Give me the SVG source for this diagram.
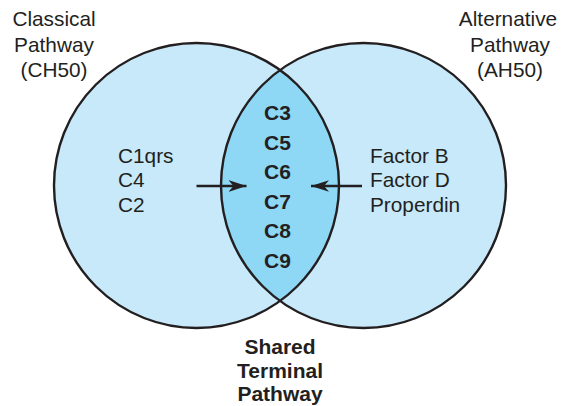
<svg xmlns="http://www.w3.org/2000/svg" width="569" height="406" viewBox="0 0 569 406">
<style>
  .t { font-family: "Liberation Sans", Arial, sans-serif; font-size: 20.8px; fill: #231f20; }
  .b { font-weight: bold; font-size: 21px; }
  .m { text-anchor: middle; }
  .ring { fill: none; stroke: #231f20; stroke-width: 2.4; }
  .conn { stroke: #231f20; stroke-width: 2.4; fill: none; }
</style>
<defs>
  <marker id="ah" markerWidth="20" markerHeight="14" viewBox="0 0 20 14" refX="18" refY="7" markerUnits="userSpaceOnUse" orient="auto">
    <path d="M0,1.2 L18,7 L0,12.8 L5,7 Z" fill="#231f20"/>
  </marker>
  <clipPath id="clipL"><circle cx="196.5" cy="185.5" r="142.5"/></clipPath>
</defs>
<rect width="569" height="406" fill="#ffffff"/>
<g id="classical">
  <circle cx="196.5" cy="185.5" r="142.5" fill="#c7e9f9"/>
</g>
<g id="alternative">
  <circle cx="363.5" cy="185.5" r="142.5" fill="#c7e9f9"/>
</g>
<g id="shared">
  <circle cx="363.5" cy="185.5" r="142.5" fill="#8ed8f5" clip-path="url(#clipL)"/>
</g>
<g id="outlines">
  <circle class="ring" cx="196.5" cy="185.5" r="142.5"/>
  <circle class="ring" cx="363.5" cy="185.5" r="142.5"/>
</g>
<g id="classical-label">
  <text class="t m" x="54" y="26">Classical</text>
  <text class="t m" x="54" y="52">Pathway</text>
  <text class="t m" x="54" y="77">(CH50)</text>
</g>
<g id="alternative-label">
  <text class="t m" x="508" y="26">Alternative</text>
  <text class="t m" x="510" y="52">Pathway</text>
  <text class="t m" x="510" y="77">(AH50)</text>
</g>
<g id="classical-items">
  <text class="t" x="118" y="162.5">C1qrs</text>
  <text class="t" x="118" y="187.2">C4</text>
  <text class="t" x="118" y="211.8">C2</text>
</g>
<g id="alternative-items">
  <text class="t" x="370" y="162.7">Factor B</text>
  <text class="t" x="370" y="187">Factor D</text>
  <text class="t" x="370" y="211.7">Properdin</text>
</g>
<g id="shared-items">
  <text class="t b m" x="277.5" y="120">C3</text>
  <text class="t b m" x="277.5" y="149.5">C5</text>
  <text class="t b m" x="277.5" y="179">C6</text>
  <text class="t b m" x="277.5" y="208.5">C7</text>
  <text class="t b m" x="277.5" y="238">C8</text>
  <text class="t b m" x="277.5" y="267.5">C9</text>
</g>
<g id="shared-label">
  <text class="t b m" x="280" y="353.5">Shared</text>
  <text class="t b m" x="280" y="377.5">Terminal</text>
  <text class="t b m" x="280" y="401">Pathway</text>
</g>
<g id="connectors">
  <line class="conn" x1="196.5" y1="186" x2="246.5" y2="186" marker-end="url(#ah)"/>
  <line class="conn" x1="362" y1="186" x2="311" y2="186" marker-end="url(#ah)"/>
</g>
</svg>
